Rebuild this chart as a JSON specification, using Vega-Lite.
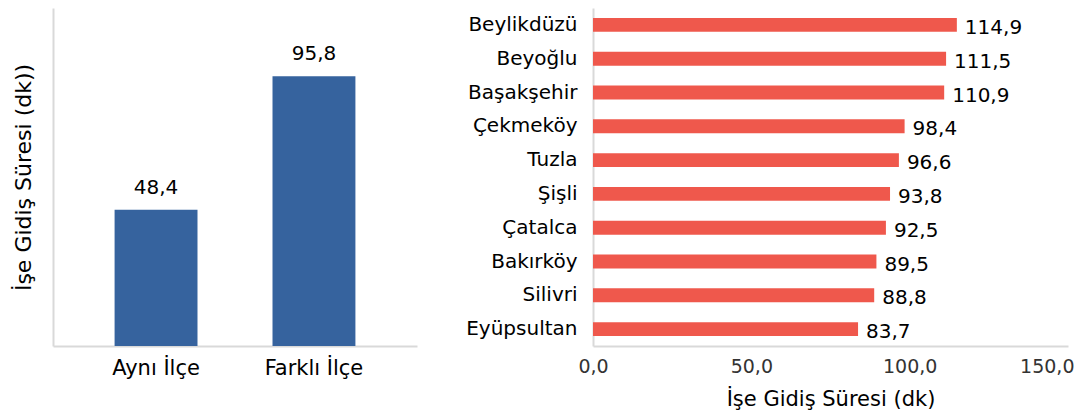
{
  "$schema": "https://vega.github.io/schema/vega-lite/v6.json",
  "background": "white",
  "padding": {"left": 12, "top": 8, "right": 0, "bottom": 2},
  "bounds": "flush",
  "spacing": 176,
  "config": {
    "view": {"stroke": null},
    "font": "DejaVu Sans",
    "locale": {"number": {"decimal": ",", "thousands": ".", "grouping": [3], "currency": ["", " TL"]}}
  },
  "hconcat": [
    {
      "width": 364,
      "height": 338,
      "data": {"values": [
        {"grup": "Aynı İlçe", "sure": 48.4},
        {"grup": "Farklı İlçe", "sure": 95.8}
      ]},
      "encoding": {
        "x": {
          "field": "grup", "type": "nominal", "sort": null,
          "scale": {"paddingInner": 0.475, "paddingOuter": 0.39},
          "axis": {"title": null, "labelAngle": 0, "ticks": false, "labelPadding": 11,
                   "labelFont": "DejaVu Sans", "labelFontSize": 21, "labelColor": "#000000",
                   "domainColor": "#D9D9D9", "domainWidth": 2}
        },
        "y": {
          "field": "sure", "type": "quantitative",
          "scale": {"domain": [0, 120], "nice": false},
          "axis": {"title": "İşe Gidiş Süresi (dk))", "labels": false, "ticks": false, "grid": false,
                   "titleFont": "DejaVu Sans", "titleFontSize": 22, "titleFontWeight": "normal", "titleColor": "#000000",
                   "titlePadding": 18, "domainColor": "#D9D9D9", "domainWidth": 2}
        }
      },
      "layer": [
        {"mark": {"type": "bar", "color": "#36639E"}},
        {"mark": {"type": "text", "baseline": "bottom", "dy": -12, "fontSize": 20, "color": "#000000"},
         "encoding": {"text": {"field": "sure", "type": "quantitative", "format": ".1f"}}}
      ]
    },
    {
      "width": 475,
      "height": 338,
      "data": {"values": [
        {"ilce": "Beylikdüzü", "sure": 114.9},
        {"ilce": "Beyoğlu", "sure": 111.5},
        {"ilce": "Başakşehir", "sure": 110.9},
        {"ilce": "Çekmeköy", "sure": 98.4},
        {"ilce": "Tuzla", "sure": 96.6},
        {"ilce": "Şişli", "sure": 93.8},
        {"ilce": "Çatalca", "sure": 92.5},
        {"ilce": "Bakırköy", "sure": 89.5},
        {"ilce": "Silivri", "sure": 88.8},
        {"ilce": "Eyüpsultan", "sure": 83.7}
      ]},
      "encoding": {
        "y": {
          "field": "ilce", "type": "nominal", "sort": null,
          "scale": {"paddingInner": 0.59, "paddingOuter": 0.295},
          "axis": {"title": null, "ticks": false, "labelPadding": 16,
                   "labelFont": "DejaVu Sans", "labelFontSize": 20, "labelColor": "#000000",
                   "domainColor": "#D9D9D9", "domainWidth": 2}
        },
        "x": {
          "field": "sure", "type": "quantitative",
          "scale": {"domain": [0, 150], "nice": false},
          "axis": {"title": "İşe Gidiş Süresi (dk)", "values": [0, 50, 100, 150], "format": ".1f",
                   "ticks": false, "grid": false, "labelPadding": 11,
                   "labelFont": "DejaVu Sans", "labelFontSize": 19, "labelColor": "#333333",
                   "labelAlign": {"condition": {"test": "datum.value >= 150", "value": "right"}, "value": "center"},
                   "labelOffset": {"condition": {"test": "datum.value >= 150", "value": 6}, "value": 0},
                   "titleFont": "DejaVu Sans", "titleFontSize": 21, "titleFontWeight": "normal", "titleColor": "#000000",
                   "titlePadding": 12, "domainColor": "#D9D9D9", "domainWidth": 2}
        }
      },
      "layer": [
        {"mark": {"type": "bar", "color": "#EF584C"}},
        {"mark": {"type": "text", "align": "left", "baseline": "middle", "dx": 8, "dy": 3, "fontSize": 20, "color": "#000000"},
         "encoding": {"text": {"field": "sure", "type": "quantitative", "format": ".1f"}}}
      ]
    }
  ]
}
